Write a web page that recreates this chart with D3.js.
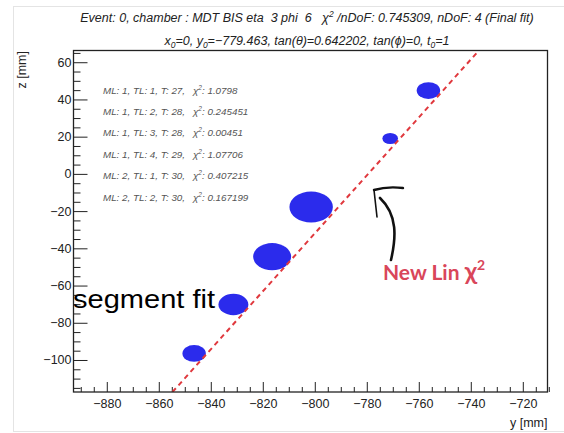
<!DOCTYPE html>
<html>
<head>
<meta charset="utf-8">
<script src="https://cdn.jsdelivr.net/npm/d3@7.9.0/dist/d3.min.js"></script>
<style>
  body { margin: 0; background: #fff; }
  svg { display: block; font-family: "Liberation Sans", Arial, sans-serif; }
  text { white-space: pre; }
</style>
</head>
<body>
<svg id="chart" width="564" height="433"></svg>
<script>
// fit result
const fitY0 = -779.463;
const fitTanTheta = 0.642202;

// drift circles (y, z, radius in mm)
const hitY = [-756.3, -771.0, -801.4, -816.4, -831.3, -846.4];
const hitZ = [44.8, 19.0, -17.8, -44.5, -70.2, -96.5];
const hitR = [4.5, 3.0, 8.35, 7.3, 5.75, 4.5];

// hit table
const hitML = [1, 1, 1, 1, 2, 2];
const hitTL = [1, 2, 3, 4, 1, 2];
const hitT = [27, 28, 28, 29, 30, 30];
const hitChi2 = ['1.0798', '0.245451', '0.00451', '1.07706', '0.407215', '0.167199'];

// axes
const yTicks = [-880, -860, -840, -820, -800, -780, -760, -740, -720];
const zTicks = [-100, -80, -60, -40, -20, 0, 20, 40, 60];
const yDomain = [-892.8, -710.5];
const zDomain = [-117.2, 66.3];

const svg = d3.select('#chart');
const fLeft = 73.5, fRight = 547.5, fTop = 50.5, fBottom = 392;

const x = d3.scaleLinear().domain(yDomain).range([fLeft, fRight]);
const y = d3.scaleLinear().domain(zDomain).range([fBottom, fTop]);
const minus = (v) => String(v).replace('-', '\u2212');

// light page border
svg.append('rect')
  .attr('x', 13.5).attr('y', 6.5).attr('width', 600).attr('height', 425)
  .attr('fill', 'none').attr('stroke', '#e4e4e4');

// title
const title = svg.append('text')
  .attr('x', 307).attr('y', 22)
  .attr('text-anchor', 'middle')
  .attr('font-size', 12.5).attr('font-style', 'italic').attr('fill', '#222');
title.append('tspan').text('Event: 0, chamber : MDT BIS eta  3 phi  6   \u03c7');
title.append('tspan').attr('font-size', 8.5).attr('dy', -5).text('2');
title.append('tspan').attr('dy', 5).text(' /nDoF: 0.745309, nDoF: 4 (Final fit)');

const sub = svg.append('text')
  .attr('x', 307).attr('y', 45)
  .attr('text-anchor', 'middle')
  .attr('font-size', 12.5).attr('font-style', 'italic').attr('fill', '#222');
const parts = [['x', '0', '=0, '], ['y', '0', '=\u2212779.463, tan(\u03b8)=0.642202, tan(\u03d5)=0, '], ['t', '0', '=1']];
parts.forEach(([a, s, b]) => {
  sub.append('tspan').text(a);
  sub.append('tspan').attr('font-size', 8.5).attr('dy', 3).text(s);
  sub.append('tspan').attr('dy', -3).text(b);
});

// minor ticks
const yMinor = d3.range(-890, -709, 5).filter((v) => v % 20 !== 0);
const zMinor = d3.range(-115, 66, 5).filter((v) => v % 20 !== 0);

svg.append('g')
  .attr('transform', `translate(0,${fBottom})`)
  .call(d3.axisBottom(x).tickValues(yMinor).tickSize(-5).tickFormat(''))
  .call((g) => g.select('.domain').remove())
  .call((g) => g.selectAll('line').attr('stroke', '#222'));

svg.append('g')
  .attr('transform', `translate(${fLeft},0)`)
  .call(d3.axisLeft(y).tickValues(zMinor).tickSize(-7).tickFormat(''))
  .call((g) => g.select('.domain').remove())
  .call((g) => g.selectAll('line').attr('stroke', '#222'));

// major ticks
svg.append('g')
  .attr('transform', `translate(0,${fBottom})`)
  .call(d3.axisBottom(x).tickValues(yTicks).tickSize(-10).tickPadding(7).tickFormat(minus))
  .call((g) => g.select('.domain').remove())
  .call((g) => g.selectAll('line').attr('stroke', '#222'))
  .call((g) => g.selectAll('text').attr('font-size', 12.5).attr('fill', '#222')
    .attr('font-family', '"Liberation Sans", Arial, sans-serif'));

svg.append('g')
  .attr('transform', `translate(${fLeft},0)`)
  .call(d3.axisLeft(y).tickValues(zTicks).tickSize(-14).tickPadding(16).tickFormat(minus))
  .call((g) => g.select('.domain').remove())
  .call((g) => g.selectAll('line').attr('stroke', '#222'))
  .call((g) => g.selectAll('text').attr('font-size', 12.5).attr('fill', '#222')
    .attr('font-family', '"Liberation Sans", Arial, sans-serif').attr('x', -2));

// axis titles
svg.append('text')
  .attr('x', fRight).attr('y', 427)
  .attr('text-anchor', 'end').attr('font-size', 12.5).attr('fill', '#222')
  .text('y [mm]');
svg.append('text')
  .attr('transform', 'translate(26,51) rotate(-90)')
  .attr('text-anchor', 'end').attr('font-size', 12.5).attr('fill', '#222')
  .text('z [mm]');

// clip for plot area
svg.append('clipPath').attr('id', 'plot-clip')
  .append('rect')
  .attr('x', fLeft).attr('y', fTop).attr('width', fRight - fLeft).attr('height', fBottom - fTop);

const plot = svg.append('g').attr('clip-path', 'url(#plot-clip)');

// drift circles
hitY.forEach((hy, i) => {
  plot.append('ellipse')
    .attr('cx', x(hy)).attr('cy', y(hitZ[i]))
    .attr('rx', x(hy + hitR[i]) - x(hy))
    .attr('ry', y(hitZ[i]) - y(hitZ[i] + hitR[i]))
    .attr('fill', '#2b2bec');
});

// fit line y = y0 + tan(theta) * z
const zEnds = zDomain;
plot.append('line')
  .attr('x1', x(fitY0 + fitTanTheta * zEnds[0])).attr('y1', y(zEnds[0]))
  .attr('x2', x(fitY0 + fitTanTheta * zEnds[1])).attr('y2', y(zEnds[1]))
  .attr('stroke', '#e0393e').attr('stroke-width', 2)
  .attr('stroke-dasharray', '5,4');

// frame
svg.append('rect')
  .attr('x', fLeft).attr('y', fTop).attr('width', fRight - fLeft).attr('height', fBottom - fTop)
  .attr('fill', 'none').attr('stroke', '#222').attr('stroke-width', 1.3);

// hit table
hitML.forEach((ml, i) => {
  const ty = 93.5 + i * 21.4;
  svg.append('text')
    .attr('x', 103).attr('y', ty)
    .attr('font-size', 9.8).attr('font-style', 'italic').attr('fill', '#555')
    .text(`ML: ${ml}, TL: ${hitTL[i]}, T: ${hitT[i]},`);
  const t = svg.append('text')
    .attr('x', 193).attr('y', ty)
    .attr('font-size', 9.8).attr('font-style', 'italic').attr('fill', '#555');
  t.append('tspan').text('\u03c7');
  t.append('tspan').attr('font-size', 6.5).attr('dy', -4).text('2');
  t.append('tspan').attr('dy', 4).text(`: ${hitChi2[i]}`);
});

// annotations
svg.append('text')
  .attr('x', 73).attr('y', 308)
  .attr('font-size', 26).attr('fill', '#000')
  .attr('textLength', 142).attr('lengthAdjust', 'spacingAndGlyphs')
  .text('segment fit');

const note = svg.append('text')
  .attr('x', 383).attr('y', 280)
  .attr('font-family', 'Lato, "Open Sans", sans-serif').attr('font-weight', 'bold')
  .attr('font-size', 21).attr('fill', '#d9465a');
note.append('tspan').text('New Lin ');
note.append('tspan').attr('font-size', 25).text('\u03c7');
note.append('tspan').attr('font-size', 14).attr('dy', -10).text('2');

// hand drawn arrow
svg.append('path')
  .attr('d', 'M391,260 C396,238 398,215 380,198')
  .attr('fill', 'none').attr('stroke', '#111').attr('stroke-width', 2.6)
  .attr('stroke-linecap', 'round');
svg.append('path')
  .attr('d', 'M374,190 C384,187 394,187 403,188')
  .attr('fill', 'none').attr('stroke', '#111').attr('stroke-width', 2.4)
  .attr('stroke-linecap', 'round');
svg.append('path')
  .attr('d', 'M374,190 C375,199 376,208 377,217')
  .attr('fill', 'none').attr('stroke', '#111').attr('stroke-width', 1.6)
  .attr('stroke-linecap', 'round');
</script>
</body>
</html>
